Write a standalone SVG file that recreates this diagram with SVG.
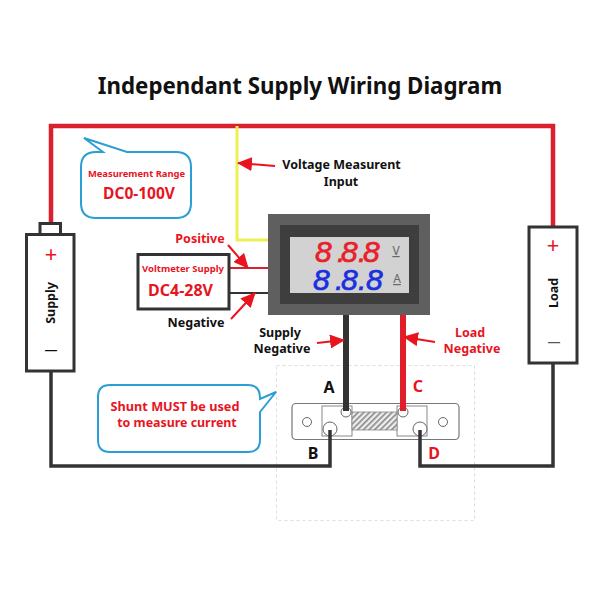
<svg xmlns="http://www.w3.org/2000/svg" width="600" height="600" viewBox="0 0 600 600">
<style>
text{font-family:"Noto Sans","Open Sans","Liberation Sans",sans-serif;font-weight:700}
.r{fill:#e8141e}.k{fill:#111}.m{text-anchor:middle}
.w{fill:none;stroke-linejoin:miter}
.box{fill:#fff;stroke:#333;stroke-width:3}
.bub{fill:#fff;stroke:#2a9fd6;stroke-width:2}
.ar{stroke:#e8141e;stroke-width:2;fill:none;marker-end:url(#ah)}
.scr{fill:#fff;stroke:#666;stroke-width:1}
.seg{font-family:"Liberation Sans",sans-serif;font-style:italic;font-weight:400;font-size:30px;stroke-width:.7}
.sym{font-weight:400}
</style>
<defs>
<marker id="ah" markerUnits="userSpaceOnUse" markerWidth="15" markerHeight="14" refX="14" refY="7" orient="auto"><path d="M0 0L15 7L0 14Z" fill="#e8141e"/></marker>
<pattern id="hatch" width="4" height="4" patternUnits="userSpaceOnUse" patternTransform="rotate(45)"><rect width="4" height="4" fill="#eee"/><rect width="1.6" height="4" fill="#888"/></pattern>
</defs>
<rect width="600" height="600" fill="#fff"/>
<text id="title" x="300" y="94" class="k m" font-size="22.300">Independant Supply Wiring Diagram</text>

<g id="shunt-outline"><rect x="276.500" y="365.500" width="198" height="155" fill="none" stroke="#ddd" stroke-dasharray="3 3"/></g>

<g id="shunt">
<rect x="292" y="403.500" width="167" height="36" rx="4" fill="#fff" stroke="#777" stroke-width="1.200"/>
<circle cx="307" cy="422" r="4.500" class="scr"/><circle cx="443" cy="422" r="4.500" class="scr"/>
<rect x="322" y="406" width="30" height="30" fill="#fff" stroke="#888"/>
<rect x="397" y="406" width="30" height="30" fill="#fff" stroke="#888"/>
<rect x="352" y="412" width="45" height="18" fill="url(#hatch)" stroke="#888" stroke-width=".8"/>
<circle cx="346" cy="412" r="5" class="scr"/><circle cx="403" cy="412" r="5" class="scr"/>
<circle cx="330" cy="429" r="7" class="scr"/><circle cx="420" cy="429" r="7" class="scr"/>
</g>

<g id="connectors">
<path class="w" d="M51 223V126H553V227" stroke="#d9202c" stroke-width="4.500"/>
<path class="w" d="M237 126V240H268" stroke="#eeee55" stroke-width="3"/>
<path class="w" d="M229 268H268" stroke="#d9202c" stroke-width="2"/>
<path class="w" d="M229 293H268" stroke="#333" stroke-width="2"/>
<path class="w" d="M51 371V466H330V430M420 430V466H553V363" stroke="#333" stroke-width="3.500"/>
<path class="w" d="M346 315V411" stroke="#333" stroke-width="6"/>
<path class="w" d="M403 315V411" stroke="#e01f28" stroke-width="6"/>
</g>

<g id="battery">
<rect x="40" y="223.500" width="20.500" height="11" class="box" stroke-width="2.500"/>
<rect x="26.500" y="234.500" width="47.500" height="136.500" class="box"/>
<text x="51" y="262" class="r m sym" font-size="22">+</text>
<text x="51" y="354" class="k m" font-size="13">—</text>
<text transform="translate(55 303) rotate(-90)" class="k m" font-size="12.500">Supply</text>
</g>

<g id="load">
<rect x="529" y="227" width="48" height="136" class="box"/>
<text x="553" y="253" class="r m sym" font-size="22">+</text>
<text x="554" y="346" class="m" fill="#555" font-size="13">—</text>
<text transform="translate(558 293) rotate(-90)" class="k m" font-size="12.500">Load</text>
</g>

<g id="meter">
<rect x="268" y="214" width="162" height="101" fill="#5f5f5f"/>
<rect x="280" y="225" width="139" height="79" fill="#3e3e3e"/>
<rect x="290" y="237" width="119" height="56" fill="#d2d2d2"/>
<text class="seg" x="315 337 341 358 363" y="262" fill="#e8202a" stroke="#e8202a">8.8.8</text>
<text class="seg" x="313 335 341 358 366" y="290" fill="#1a2fe0" stroke="#1a2fe0">8.8.8</text>
<text x="396" y="255" class="m sym" font-size="12" fill="#666" text-decoration="underline">V</text>
<text x="397" y="283" class="m sym" font-size="12" fill="#666" text-decoration="underline">A</text>
</g>

<g id="voltmeter-supply">
<rect x="138" y="254.500" width="91" height="54.500" class="box"/>
<text x="183" y="272" class="r m" font-size="9.500">Voltmeter Supply</text>
<text x="180.500" y="296" class="r m" font-size="16">DC4-28V</text>
</g>

<g id="range-note">
<path class="bub" d="M103 152L84 138L127 152H176Q191 152 191 167V203Q191 218 176 218H96Q81 218 81 203V167Q81 152 96 152Z"/>
<text x="136.500" y="177" class="r m" font-size="9.400">Measurement Range</text>
<text x="139" y="199" class="r m" font-size="15.500">DC0-100V</text>
</g>

<g id="shunt-note">
<path class="bub" d="M110 385H248Q260 385 260 398V399L276 392L260 412V440Q260 452 248 452H110Q98 452 98 440V397Q98 385 110 385Z"/>
<text x="175" y="411" class="r m" font-size="12.700">Shunt MUST be used</text>
<text x="177" y="427" class="r m" font-size="12.400">to measure current</text>
</g>

<g id="arrows">
<path class="ar" d="M275 166L238 163"/>
<path class="ar" d="M228 245L248 268"/>
<path class="ar" d="M231 319L255 293"/>
<path class="ar" d="M317 343L344 340"/>
<path class="ar" d="M435 342L404 337"/>
</g>

<g id="labels">
<text x="341.500" y="169" class="k m" font-size="12.500">Voltage Measurent</text>
<text x="341" y="186" class="k m" font-size="12.500">Input</text>
<text x="200" y="243" class="r m" font-size="12.500">Positive</text>
<text x="196" y="327" class="k m" font-size="12.500">Negative</text>
<text x="280" y="337" class="k m" font-size="12.500">Supply</text>
<text x="282" y="353" class="k m" font-size="12.500">Negative</text>
<text x="470" y="337" class="r m" font-size="12.500">Load</text>
<text x="472" y="353" class="r m" font-size="12.500">Negative</text>
<text x="329" y="393" class="k m" font-size="16">A</text>
<text x="313" y="459" class="k m" font-size="16">B</text>
<text x="418" y="392" class="r m" font-size="16">C</text>
<text x="434" y="459" class="r m" font-size="16">D</text>
</g>
</svg>
